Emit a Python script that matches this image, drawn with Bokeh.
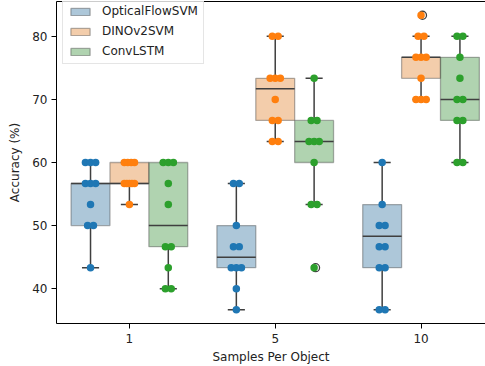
import numpy as np
from bokeh.plotting import figure
from bokeh.models import ColumnDataSource, FixedTicker, LinearAxis, Range1d, Legend, LegendItem
from bokeh.embed import file_html
from bokeh.resources import INLINE

samples = ["1", "5", "10"]
methods = ["OpticalFlowSVM", "DINOv2SVM", "ConvLSTM"]

# accuracy (%) of each run, per method and samples-per-object
optical_1 = [60, 60, 60, 56.67, 56.67, 56.67, 53.33, 50, 50, 43.33]
dino_1 = [60, 60, 60, 60, 56.67, 56.67, 56.67, 56.67, 56.67, 53.33]
conv_1 = [60, 60, 60, 56.67, 53.33, 46.67, 46.67, 43.33, 40, 40]
optical_5 = [56.67, 56.67, 50, 46.67, 46.67, 43.33, 43.33, 43.33, 40, 36.67]
dino_5 = [80, 80, 73.33, 73.33, 73.33, 70, 66.67, 66.67, 63.33, 63.33]
conv_5 = [73.33, 66.67, 66.67, 63.33, 63.33, 63.33, 60, 53.33, 53.33, 43.33]
optical_10 = [60, 53.33, 50, 50, 46.67, 46.67, 43.33, 43.33, 36.67, 36.67]
dino_10 = [83.33, 80, 80, 76.67, 76.67, 76.67, 73.33, 70, 70, 70]
conv_10 = [80, 80, 76.67, 73.33, 70, 70, 66.67, 66.67, 60, 60]

# box statistics per samples-per-object (1, 5, 10)
optical_q1 = [50, 43.33, 43.33]
optical_med = [56.67, 45, 48.33]
optical_q3 = [56.67, 50, 53.33]
optical_lo = [43.33, 36.67, 36.67]
optical_hi = [60, 56.67, 60]
dino_q1 = [56.67, 66.67, 73.33]
dino_med = [56.67, 71.67, 76.67]
dino_q3 = [60, 73.33, 76.67]
dino_lo = [53.33, 63.33, 70]
dino_hi = [60, 80, 80]
conv_q1 = [46.67, 60, 66.67]
conv_med = [50, 63.33, 70]
conv_q3 = [60, 66.67, 76.67]
conv_lo = [40, 53.33, 60]
conv_hi = [60, 73.33, 80]

flier_sample = ["5", "10"]
flier_method = ["ConvLSTM", "DINOv2SVM"]
flier_value = [43.33, 83.33]

# ---------------- styling / layout ----------------
point_colors = ["#1f77b4", "#ff7f0e", "#2ca02c"]
box_colors = ["#3274a1", "#e1812c", "#3a923a"]
line_col = "#3f3f3f"
FONT = "DejaVu Sans"
BW = 0.8 / 3
offsets = [-BW, 0.0, BW]

runs = {
    "OpticalFlowSVM": [optical_1, optical_5, optical_10],
    "DINOv2SVM": [dino_1, dino_5, dino_10],
    "ConvLSTM": [conv_1, conv_5, conv_10],
}
stats = {
    "OpticalFlowSVM": (optical_q1, optical_med, optical_q3, optical_lo, optical_hi),
    "DINOv2SVM": (dino_q1, dino_med, dino_q3, dino_lo, dino_hi),
    "ConvLSTM": (conv_q1, conv_med, conv_q3, conv_lo, conv_hi),
}

p = figure(width=485, height=366, x_range=Range1d(-0.5, 2.442), y_range=Range1d(34.49, 85.51),
           output_backend="svg", toolbar_location=None,
           min_border_left=56, min_border_right=0, min_border_top=1, min_border_bottom=41)
p.outline_line_color = None
p.xgrid.visible = False
p.ygrid.visible = False
p.background_fill_color = "white"

legend_items = []
for mi, m in enumerate(methods):
    q1, med, q3, lo, hi = stats[m]
    cx = [i + offsets[mi] for i in range(len(samples))]
    src = ColumnDataSource(dict(cx=cx, left=[c - BW / 2 for c in cx], right=[c + BW / 2 for c in cx],
                                capl=[c - BW * 0.22 for c in cx], capr=[c + BW * 0.22 for c in cx],
                                q1=q1, med=med, q3=q3, lo=lo, hi=hi))
    r = p.quad(left="left", right="right", bottom="q1", top="q3", source=src,
               fill_color=box_colors[mi], fill_alpha=0.4, line_color=line_col, line_alpha=0.4, line_width=1.3)
    legend_items.append(LegendItem(label=m, renderers=[r]))
    p.segment(x0="cx", y0="q3", x1="cx", y1="hi", source=src, line_color=line_col, line_width=1.5)
    p.segment(x0="cx", y0="q1", x1="cx", y1="lo", source=src, line_color=line_col, line_width=1.5)
    p.segment(x0="capl", y0="hi", x1="capr", y1="hi", source=src, line_color=line_col, line_width=1.5)
    p.segment(x0="capl", y0="lo", x1="capr", y1="lo", source=src, line_color=line_col, line_width=1.5)
    p.segment(x0="left", y0="med", x1="right", y1="med", source=src, line_color=line_col, line_width=1.5)

# outliers
fx = [samples.index(s) + offsets[methods.index(m)] + 0.01 for s, m in zip(flier_sample, flier_method)]
p.scatter(x=fx, y=flier_value, size=8, marker="circle", fill_color=None, line_color=line_col, line_width=1.3)

# strip points
for mi, m in enumerate(methods):
    xs, ys = [], []
    for si, vals in enumerate(runs[m]):
        uniq = []
        for v in vals:
            if v not in uniq:
                uniq.append(v)
        for v in uniq:
            k = vals.count(v)
            spread = min(0.035, 0.02 * (k - 1))
            for o in np.linspace(-spread, spread, k):
                xs.append(si + offsets[mi] + o)
                ys.append(v)
    p.scatter(x=xs, y=ys, size=7.5, marker="circle", fill_color=point_colors[mi], line_color=None)

# axes
p.xaxis.ticker = FixedTicker(ticks=[0, 1, 2])
p.xaxis.major_label_overrides = {i: s for i, s in enumerate(samples)}
p.yaxis.ticker = FixedTicker(ticks=[40, 50, 60, 70, 80])
p.xaxis.axis_label = "Samples Per Object"
p.yaxis.axis_label = "Accuracy (%)"
for ax in (p.xaxis, p.yaxis):
    ax.axis_line_color = "black"
    ax.axis_line_width = 1
    ax.major_tick_line_color = "black"
    ax.major_tick_out = 5
    ax.major_tick_in = 0
    ax.minor_tick_line_color = None
    ax.major_label_text_font = FONT
    ax.major_label_text_font_size = "12px"
    ax.major_label_text_color = "#222222"
    ax.axis_label_text_font = FONT
    ax.axis_label_text_font_size = "12px"
    ax.axis_label_text_font_style = "normal"
    ax.axis_label_text_color = "#222222"
p.xaxis.major_label_standoff = 5
p.xaxis.axis_label_standoff = 4
p.yaxis.major_label_standoff = 4
p.yaxis.axis_label_standoff = 7

top = LinearAxis(ticker=FixedTicker(ticks=[]), axis_line_color="black", axis_line_width=1,
                 major_tick_out=0, major_tick_in=0, minor_tick_out=0, minor_tick_in=0,
                 major_label_text_font_size="0px")
p.add_layout(top, "above")

legend = Legend(items=legend_items, location=(6, 259))
legend.label_text_font = FONT
legend.label_text_font_size = "12px"
legend.label_text_color = "#222222"
legend.glyph_width = 24
legend.glyph_height = 9
legend.label_height = 13
legend.spacing = 6
legend.padding = 5
legend.label_standoff = 10
legend.border_line_color = "#cccccc"
legend.border_line_width = 1
legend.background_fill_alpha = 0.8
legend.margin = 0
p.add_layout(legend, "center")

open("out.html", "w").write(file_html(p, INLINE))
